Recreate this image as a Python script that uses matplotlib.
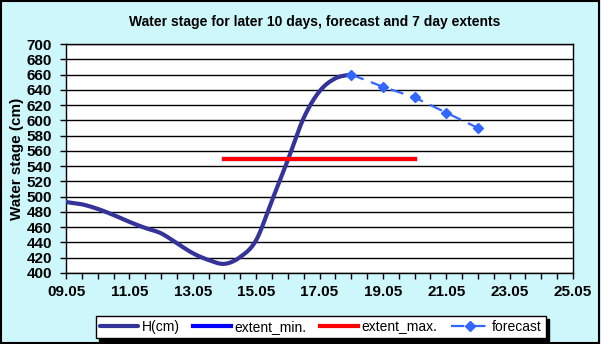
import numpy as np
import matplotlib
matplotlib.use("Agg")
import matplotlib.pyplot as plt
from matplotlib.patches import Rectangle

# ---- data (day of May) ----
h_days = [9.0, 9.5, 10.0, 10.5, 11.0, 11.5, 12.0, 12.5, 13.0, 13.5,
          14.0, 14.5, 15.0, 15.5, 16.0, 16.5, 17.0, 17.5, 18.0]
h_values = [493, 490, 484, 476, 467, 459, 452, 439, 426, 417,
            412, 421, 443, 495, 548, 603, 638, 655, 660]

forecast_days = [18, 19, 20, 21, 22]
forecast_values = [660, 644, 630, 610, 590]

extent_days = [14, 20]
extent_min_values = [550, 550]
extent_max_values = [550, 550]

xtick_days = [9, 11, 13, 15, 17, 19, 21, 23, 25]
xtick_labels = ["09.05", "11.05", "13.05", "15.05", "17.05",
                "19.05", "21.05", "23.05", "25.05"]
ytick_values = list(range(400, 701, 20))

title = "Water stage for later 10 days, forecast and 7 day extents"
ylabel = "Water stage (cm)"


def smooth(xs, ys, n=20):
    """Excel-like (Catmull-Rom / Bezier) smoothing for drawing."""
    P = np.column_stack([xs, ys]).astype(float)
    P = np.vstack([P[0], P, P[-1]])
    out = []
    for i in range(1, len(P) - 2):
        p0, p1, p2, p3 = P[i - 1], P[i], P[i + 1], P[i + 2]
        c1 = p1 + (p2 - p0) / 6.0
        c2 = p2 - (p3 - p1) / 6.0
        t = np.linspace(0, 1, n, endpoint=(i == len(P) - 3))[:, None]
        seg = ((1 - t) ** 3) * p1 + 3 * ((1 - t) ** 2) * t * c1 + \
            3 * (1 - t) * t ** 2 * c2 + t ** 3 * p2
        out.append(seg)
    out = np.vstack(out)
    return out[:, 0], out[:, 1]


plt.rcParams['font.family'] = ['Liberation Sans', 'DejaVu Sans']

fig = plt.figure(figsize=(6.01, 3.44), dpi=100)
fig.patch.set_facecolor('#cdf7fb')
ax = fig.add_axes([66 / 601, 1 - 273 / 344, 507 / 601, 229 / 344])
ax.set_facecolor('white')

sx, sy = smooth(h_days, h_values)
ax.plot(sx, sy, color='#333399', lw=3, solid_capstyle='round', label='H(cm)', zorder=3)
ax.plot(extent_days, extent_min_values, color='#0000ff', lw=3, label='extent_min.', zorder=3)
ax.plot(extent_days, extent_max_values, color='#ff0000', lw=3, label='extent_max.', zorder=3)
ax.plot(forecast_days, forecast_values, color='#3366ff', lw=1.6, ls=(0, (6, 3.5)),
        marker='D', ms=5, label='forecast', zorder=4)

ax.set_xlim(9, 25)
ax.set_ylim(400, 700)
ax.set_yticks(ytick_values)
ax.set_xticks(xtick_days)
ax.set_xticklabels(xtick_labels)
ax.set_xticks(np.arange(9, 25.01, 0.5), minor=True)
ax.yaxis.grid(True, color='black', lw=1)
ax.set_axisbelow(True)
for s in ax.spines.values():
    s.set_color('black')
    s.set_linewidth(1)
ax.tick_params(axis='both', which='both', direction='out', color='black', width=1)
ax.tick_params(axis='x', which='both', length=4)
ax.tick_params(axis='y', length=4)
for lab in ax.get_xticklabels() + ax.get_yticklabels():
    lab.set_fontweight('bold')
    lab.set_fontsize(11)
ax.tick_params(axis='x', pad=5)
ax.tick_params(axis='y', pad=6)

ax.set_ylabel(ylabel, fontsize=11, fontweight='bold')
ax.yaxis.set_label_coords(-(66 - 24) / 507, 0.5)
fig.text(315 / 601, 1 - 22 / 344, title, ha='center', va='center',
         fontsize=10, fontweight='bold')

leg = fig.legend(loc='center', bbox_to_anchor=(321 / 601, 1 - 327 / 344), ncol=4,
                 fontsize=10, frameon=True, fancybox=False, framealpha=1,
                 edgecolor='black', handlelength=2.7, handletextpad=0.25,
                 columnspacing=1.0, borderpad=0.3,
                 shadow={'color': 'black', 'alpha': 1})
leg.get_frame().set_linewidth(1)

fig.patches.append(Rectangle((0.001, 0.002), 0.996, 0.995, transform=fig.transFigure,
                             fill=False, edgecolor='black', lw=1.5))

fig.savefig('out.png', dpi=100, facecolor=fig.get_facecolor())
